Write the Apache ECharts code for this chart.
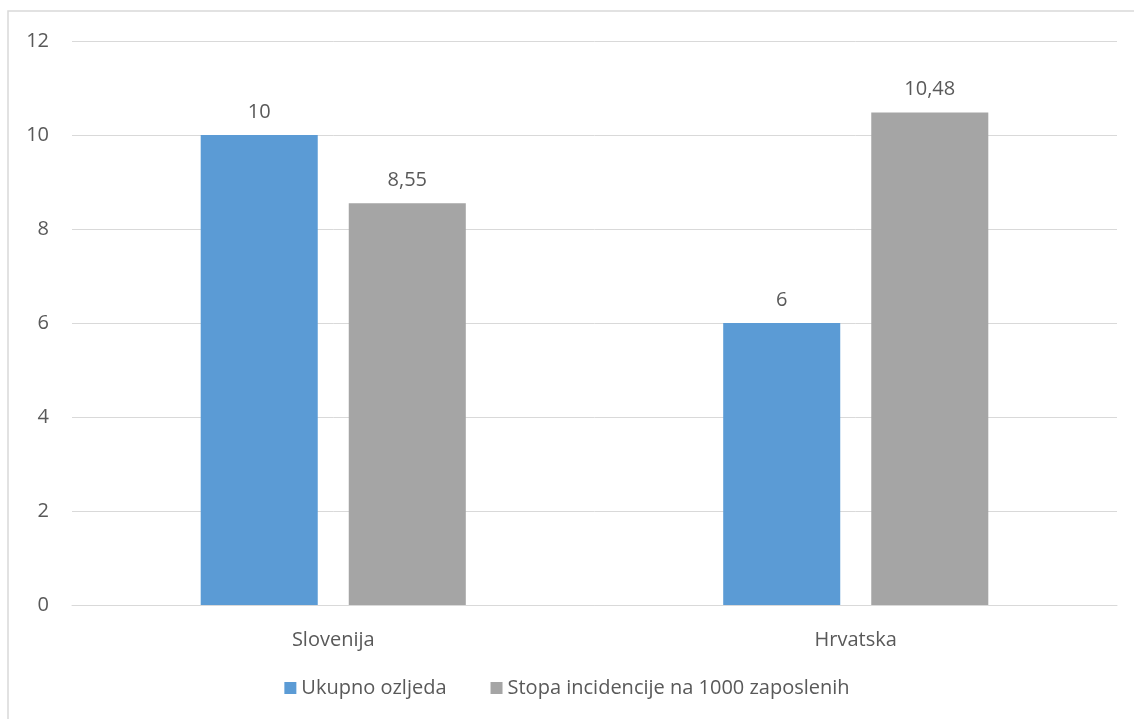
<!DOCTYPE html>
<html><head><meta charset="utf-8">
<script src="https://cdn.jsdelivr.net/npm/echarts@6/dist/echarts.min.js"></script>
<style>html,body{margin:0;padding:0;background:#fff}#c{width:1134px;height:719px}</style>
</head><body><div id="c"></div>
<script>
const categories = ['Slovenija', 'Hrvatska'];
const ukupno = [10, 6];
const stopa = [8.55, 10.48];
const seriesNames = ['Ukupno ozljeda', 'Stopa incidencije na 1000 zaposlenih'];
const FONT = 'Open Sans';
const TXT = '#595959';
const FS = 20;
const fmt = v => String(v.value).replace('.', ',');
const chart = echarts.init(document.getElementById('c'));
chart.setOption({
  animation: false,
  backgroundColor: '#fff',
  textStyle: { fontFamily: FONT },
  graphic: [{ type: 'rect', shape: { x: 8, y: 11, width: 1300, height: 900 }, style: { fill: 'none', stroke: '#d9d9d9', lineWidth: 1.5 }, silent: true }],
  grid: { left: 72, right: 17, top: 41, bottom: 114 },
  legend: {
    bottom: 16, left: 'center', itemWidth: 12, itemHeight: 12, itemGap: 44,
    icon: 'rect',
    textStyle: { fontFamily: FONT, fontSize: FS, color: TXT },
    data: seriesNames
  },
  xAxis: {
    type: 'category', data: categories,
    axisLine: { lineStyle: { color: '#d9d9d9', width: 1 } },
    axisTick: { show: false },
    axisLabel: { color: TXT, fontFamily: FONT, fontSize: FS, margin: 25 }
  },
  yAxis: {
    type: 'value', min: 0, max: 12, interval: 2,
    axisLine: { show: false }, axisTick: { show: false },
    splitLine: { lineStyle: { color: '#d9d9d9', width: 1 } },
    axisLabel: { color: TXT, fontFamily: FONT, fontSize: FS, margin: 23 }
  },
  series: [
    { name: seriesNames[0], type: 'bar', data: ukupno, barWidth: '22.4%', barGap: '26.5%',
      itemStyle: { color: '#5b9bd5' },
      label: { show: true, position: 'top', distance: 13, color: TXT, fontFamily: FONT, fontSize: FS, formatter: fmt } },
    { name: seriesNames[1], type: 'bar', data: stopa, barWidth: '22.4%', barGap: '26.5%',
      itemStyle: { color: '#a5a5a5' },
      label: { show: true, position: 'top', distance: 13, color: TXT, fontFamily: FONT, fontSize: FS, formatter: fmt } }
  ]
});
</script></body></html>
